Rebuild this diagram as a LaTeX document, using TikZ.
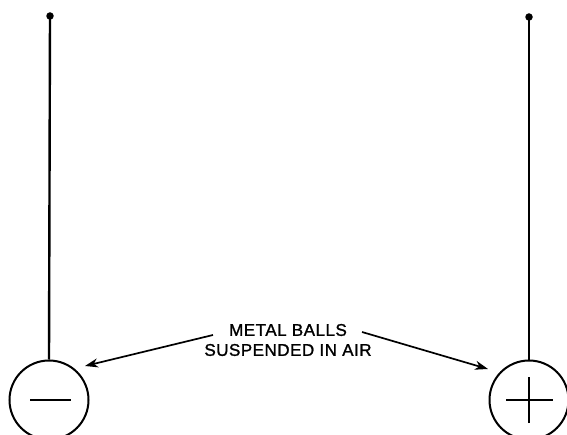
\documentclass[tikz,border=0pt]{standalone}
\usepackage{fontspec}
\setmainfont{Liberation Sans}
\newfontfamily\labfont[FakeBold=1.3,LetterSpace=3]{Liberation Sans}
\usetikzlibrary{arrows.meta}
\begin{document}
\begin{tikzpicture}[x=1pt,y=-1pt,
  wire/.style={line width=2.4pt},
  ball/.style={circle,draw,line width=2pt,minimum size=79pt,inner sep=0pt},
  sign/.style={line width=2.4pt},
  pointer/.style={line width=1.7pt,-{Stealth[length=13pt,width=9pt,inset=4pt]}},
  dot/.style={circle,fill,minimum size=7.5pt,inner sep=0pt}]
\clip (0,0) rectangle (567,435);
\useasboundingbox (0,0) rectangle (567,435);
\node[dot] (dL) at (50,16) {};
\node[dot] (dR) at (529,17) {};
\node[ball] (bL) at (49,400) {};
\node[ball] (bR) at (529,400) {};
\draw[wire] (dL.center) -- (bL.north);
\draw[wire] (dR.center) -- (bR.north);
\draw[sign] ([xshift=-19pt]bL.center) -- ([xshift=22pt]bL.center);
\draw[sign] ([xshift=-23pt]bR.center) -- ([xshift=24pt]bR.center);
\draw[sign] ([yshift=-23pt]bR.center) -- ([yshift=23pt]bR.center);
\node[align=center,font=\labfont\fontsize{17}{20}\selectfont,inner sep=1pt] (lab) at (288,340) {METAL BALLS\\SUSPENDED IN AIR};
\coordinate (sL) at (213,335);
\coordinate (tL) at (85,366);
\coordinate (sR) at (362,332);
\coordinate (tR) at (488,369);
\draw[pointer] (sL) -- (tL);
\draw[pointer] (sR) -- (tR);
\end{tikzpicture}
\end{document}
